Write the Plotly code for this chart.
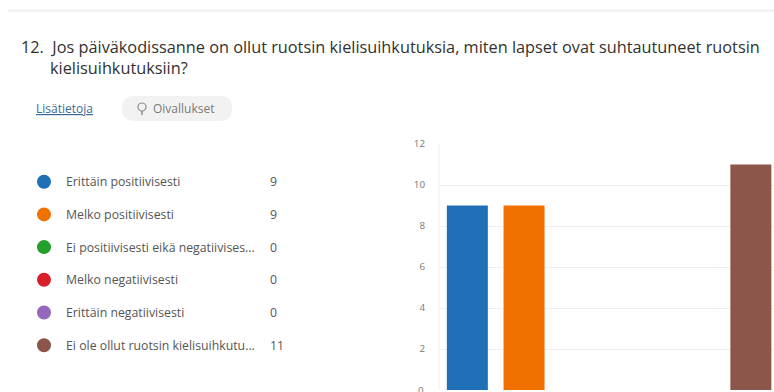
import plotly.graph_objects as go

# Survey question 12: attitudes of children toward Swedish language immersion
question_line1 = "12.  Jos päiväkodissanne on ollut ruotsin kielisuihkutuksia, miten lapset ovat suhtautuneet ruotsin"
question_line2 = "kielisuihkutuksiin?"

categories = [
    "Erittäin positiivisesti",
    "Melko positiivisesti",
    "Ei positiivisesti eikä negatiivisesti",
    "Melko negatiivisesti",
    "Erittäin negatiivisesti",
    "Ei ole ollut ruotsin kielisuihkutuksia",
]
legend_labels = [
    "Erittäin positiivisesti",
    "Melko positiivisesti",
    "Ei positiivisesti eikä negatiivises...",
    "Melko negatiivisesti",
    "Erittäin negatiivisesti",
    "Ei ole ollut ruotsin kielisuihkutu...",
]
counts = [9, 9, 0, 0, 0, 11]
colors = ["#1f70b6", "#f07100", "#22a02a", "#d8202c", "#9467bd", "#8c564b"]
y_ticks = [2, 4, 6, 8, 10, 12]
y_base = 0

W, H = 774, 392
L, R, T, B = 439, 0, 144, 2
PW, PH = W - L - R, H - T - B

def px(x):
    return (x - L) / PW

def py(y):
    return 1 - (y - T) / PH

FONT = "Open Sans, Noto Sans, sans-serif"
TICK_FONT = dict(family=FONT, size=9.8, color="#777777")

fig = go.Figure()
fig.add_trace(go.Bar(
    x=list(range(len(categories))),
    y=counts,
    marker=dict(color=colors, line=dict(width=0)),
    width=0.723,
    hovertext=categories,
    showlegend=False,
))

annotations = []
shapes = []

# Divider line at the top of the card
shapes.append(dict(type="line", xref="paper", yref="paper",
                   x0=px(8), x1=px(774), y0=py(10.5), y1=py(10.5),
                   line=dict(color="#efefef", width=2)))

# Question text
annotations.append(dict(text=question_line1, xref="paper", yref="paper",
                        x=px(19), y=py(47), xanchor="left", yanchor="middle",
                        showarrow=False, font=dict(family=FONT, size=16.3, color="#323130")))
annotations.append(dict(text=question_line2, xref="paper", yref="paper",
                        x=px(48), y=py(68), xanchor="left", yanchor="middle",
                        showarrow=False, font=dict(family=FONT, size=16.3, color="#323130")))

# "Lisätietoja" link
annotations.append(dict(text="<u>Lisätietoja</u>", xref="paper", yref="paper",
                        x=px(34), y=py(108), xanchor="left", yanchor="middle",
                        showarrow=False, font=dict(family=FONT, size=12, color="#3b6a94")))

# "Oivallukset" pill button
shapes.append(dict(type="path", xref="paper", yref="paper",
                   path="M {a},{t} L {b},{t} Q {br},{t} {br},{m} Q {br},{bo} {b},{bo} L {a},{bo} Q {al},{bo} {al},{m} Q {al},{t} {a},{t} Z".format(
                       a=px(134), b=px(220), al=px(122), br=px(232),
                       t=py(96), bo=py(121), m=py(108.5)),
                   fillcolor="#f2f2f2", line=dict(width=0)))
shapes.append(dict(type="circle", xref="paper", yref="paper",
                   x0=px(138), x1=px(146), y0=py(111), y1=py(103),
                   line=dict(color="#8a8a8a", width=1.2)))
shapes.append(dict(type="line", xref="paper", yref="paper",
                   x0=px(142), x1=px(142), y0=py(111), y1=py(115),
                   line=dict(color="#8a8a8a", width=1.5)))
annotations.append(dict(text="Oivallukset", xref="paper", yref="paper",
                        x=px(151), y=py(108), xanchor="left", yanchor="middle",
                        showarrow=False, font=dict(family=FONT, size=12, color="#7a7a7a")))

# Legend rows with counts
for i, (lab, n, c) in enumerate(zip(legend_labels, counts, colors)):
    yc = 181.7 + i * 32.7
    shapes.append(dict(type="circle", xref="paper", yref="paper",
                       x0=px(37), x1=px(51), y0=py(yc + 7), y1=py(yc - 7),
                       fillcolor=c, line=dict(width=0)))
    annotations.append(dict(text=lab, xref="paper", yref="paper",
                            x=px(64), y=py(yc), xanchor="left", yanchor="middle",
                            showarrow=False, font=dict(family=FONT, size=12.3, color="#555555")))
    annotations.append(dict(text=str(n), xref="paper", yref="paper",
                            x=px(268), y=py(yc), xanchor="left", yanchor="middle",
                            showarrow=False, font=dict(family=FONT, size=12.3, color="#555555")))

# Baseline tick label sits on the bottom edge of the canvas
annotations.append(dict(text=str(y_base), xref="paper", yref="y",
                        x=px(426), y=y_base, xanchor="right", yanchor="middle",
                        showarrow=False, font=TICK_FONT))

fig.update_layout(
    width=W, height=H,
    margin=dict(l=L, r=R, t=T, b=B, pad=0),
    paper_bgcolor="white", plot_bgcolor="white",
    xaxis=dict(range=[-0.5, -0.5 + PW / 56.7], showticklabels=False, ticks="",
               showgrid=False, zeroline=False, showline=False, fixedrange=True),
    yaxis=dict(range=[0, 12], tickvals=y_ticks, ticks="", showline=False,
               gridcolor="#eeeeee", gridwidth=1, zeroline=False,
               tickfont=TICK_FONT, ticklabelstandoff=13, fixedrange=True),
    shapes=shapes,
    annotations=annotations,
    showlegend=False,
)

# Left edge of the plot area
fig.add_shape(type="line", xref="paper", yref="paper", x0=0, x1=0, y0=0, y1=1,
              line=dict(color="#f0f0f0", width=1))

fig.write_html("out.html")
